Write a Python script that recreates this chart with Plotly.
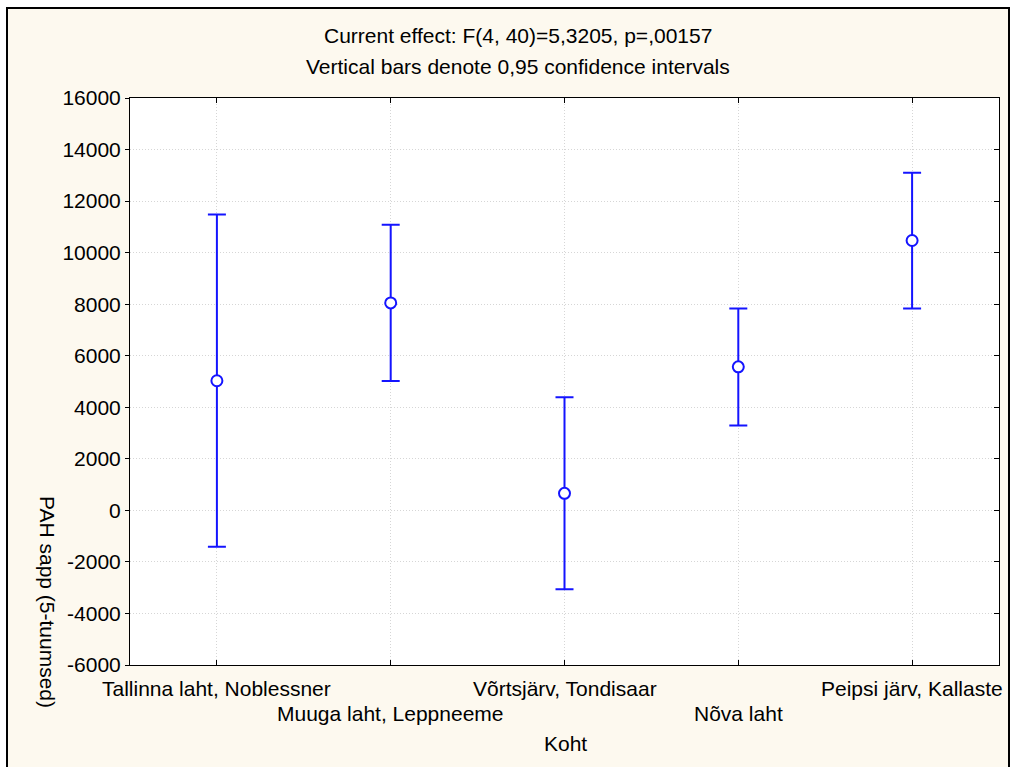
import plotly.graph_objects as go

categories = ["Tallinna laht, Noblessner", "Muuga laht, Leppneeme", "Võrtsjärv, Tondisaar",
              "Nõva laht", "Peipsi järv, Kallaste"]
means = [5030, 8050, 660, 5570, 10470]
upper = [11480, 11080, 4390, 7830, 13100]
lower = [-1410, 5020, -3060, 3290, 7830]
y_ticks = [-6000, -4000, -2000, 0, 2000, 4000, 6000, 8000, 10000, 12000, 14000, 16000]

W, H = 1012, 767
L, R, T, B = 130, 999, 98, 665
pw, ph = R - L, B - T

def px(x):
    return (x - L) / pw

def py(y):
    return (B - y) / ph

BLUE = "#1414ff"
xs = list(range(len(categories)))

fig = go.Figure()
fig.add_trace(go.Scatter(
    x=xs, y=means, mode="markers",
    marker=dict(symbol="circle", size=11, color="white", line=dict(color=BLUE, width=2)),
    error_y=dict(type="data", symmetric=False,
                 array=[u - m for u, m in zip(upper, means)],
                 arrayminus=[m - l for m, l in zip(means, lower)],
                 color=BLUE, thickness=2, width=9),
    showlegend=False,
))

font = dict(family="Liberation Sans, Arial, sans-serif", size=21, color="black")

annotations = []
for i, c in enumerate(categories):
    annotations.append(dict(x=i, y=py(688 if i % 2 == 0 else 713), xref="x", yref="paper",
                            text=c, showarrow=False, font=font, xanchor="center", yanchor="middle"))
annotations += [
    dict(x=px(518), y=py(36), xref="paper", yref="paper", text="Current effect: F(4, 40)=5,3205, p=,00157",
         showarrow=False, font=font, xanchor="center", yanchor="middle"),
    dict(x=px(518), y=py(66), xref="paper", yref="paper", text="Vertical bars denote 0,95 confidence intervals",
         showarrow=False, font=font, xanchor="center", yanchor="middle"),
    dict(x=px(565), y=py(743), xref="paper", yref="paper", text="Koht",
         showarrow=False, font=font, xanchor="center", yanchor="middle"),
    dict(x=px(48), y=py(602), xref="paper", yref="paper", text="PAH sapp (5-tuumsed)", textangle=90,
         showarrow=False, font=font, xanchor="center", yanchor="middle"),
]

shapes = [
    dict(type="rect", xref="paper", yref="paper", x0=px(-5), x1=px(7), y0=py(-5), y1=py(800),
         fillcolor="white", line=dict(width=0), layer="above"),
    dict(type="rect", xref="paper", yref="paper", x0=px(-5), x1=px(1020), y0=py(-5), y1=py(8),
         fillcolor="white", line=dict(width=0), layer="above"),
    dict(type="rect", xref="paper", yref="paper", x0=px(1009), x1=px(1020), y0=py(-5), y1=py(800),
         fillcolor="white", line=dict(width=0), layer="above"),
    dict(type="rect", xref="paper", yref="paper", x0=px(7), x1=px(1009), y0=py(8), y1=py(790),
         line=dict(color="black", width=2), layer="above"),
]

GRID = "#d6d6d6"
fig.update_layout(
    width=W, height=H,
    margin=dict(l=L, r=W - R, t=T, b=H - B, pad=0),
    paper_bgcolor="#fdf9ef", plot_bgcolor="white",
    font=font,
    annotations=annotations, shapes=shapes,
    xaxis=dict(range=[-0.5, 4.5], tickvals=xs, showticklabels=False, ticks="inside", ticklen=5,
               tickcolor="black", showline=True, linecolor="black", linewidth=1, mirror="ticks",
               showgrid=True, gridcolor=GRID, griddash="1px,2px", gridwidth=1, zeroline=False,
               fixedrange=True),
    yaxis=dict(range=[-6000, 16000], tickvals=y_ticks, ticktext=[str(v) for v in y_ticks],
               ticks="outside", ticklen=4, tickcolor="black", showline=True, linecolor="black",
               linewidth=1, mirror=True, showgrid=True, gridcolor=GRID, griddash="1px,2px",
               gridwidth=1, zeroline=False, tickfont=font),
    yaxis2=dict(range=[-6000, 16000], overlaying="y", side="right", tickvals=y_ticks,
                showticklabels=False, ticks="inside", ticklen=5, tickcolor="black",
                showgrid=False, zeroline=False, showline=False),
)
fig.add_trace(go.Scatter(x=[None], y=[None], yaxis="y2", showlegend=False, hoverinfo="skip"))

fig.write_html("out.html")
